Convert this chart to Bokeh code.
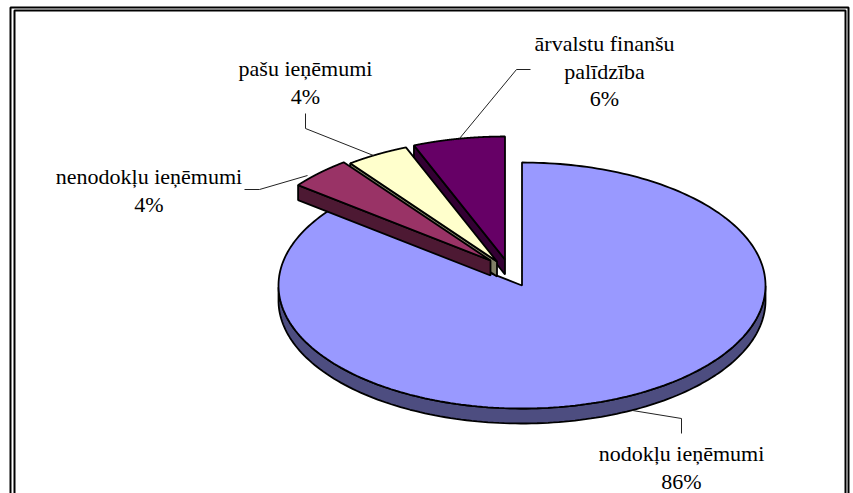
import numpy as np
from bokeh.plotting import figure
from bokeh.models import ColumnDataSource, Range1d
from bokeh.core.properties import value
from bokeh.embed import file_html
from bokeh.resources import INLINE

# Data, in drawing order round the pie, clockwise from twelve o'clock
categories = ["nodokļu ieņēmumi", "nenodokļu ieņēmumi", "pašu ieņēmumi", "ārvalstu finanšu\npalīdzība"]
shares = [85.5, 4.2, 4.2, 6.1]
percent_labels = ["86%", "4%", "4%", "6%"]

top_colors = ["#9999FF", "#993366", "#FFFFCC", "#660066"]
side_colors = ["#4D4D80", "#4D1933", "#808066", "#330033"]

W, H = 853, 493
CX, CY, RX, RY, DEPTH = 521.5, 285, 243.5, 123, 15
offsets = [(0, 0), (-31.5, -25), (-25, -24), (-17, -26)]

label_pos = [(681, 453), (148.5, 176), (305, 68), (604, 43)]
leaders = [
    [(681, 433), (681, 418), (632, 410)],
    [(244, 189), (259, 189), (307, 175)],
    [(305, 113), (305, 128), (373, 155)],
    [(530, 69), (516, 69), (459, 138)],
]

p = figure(width=W, height=H, output_backend="svg", toolbar_location=None,
           x_range=Range1d(0, W), y_range=Range1d(H, 0), min_border=0)
p.axis.visible = False
p.grid.visible = False
p.outline_line_color = None
p.background_fill_color = "white"
p.border_fill_color = "white"

fractions = np.cumsum([0] + shares) / sum(shares)


def wedge(i):
    a0, a1 = fractions[i] * 2 * np.pi, fractions[i + 1] * 2 * np.pi
    t = np.linspace(a0, a1, 240)
    dx, dy = offsets[i]
    return t, CX + dx, CY + dy


# Blue slice: rim first, then the top surface
t, cx, cy = wedge(0)
vis = t[(t >= np.pi / 2) & (t <= 1.5 * np.pi)]
rim_x = RX * np.sin(vis) + cx
rim_y = -RY * np.cos(vis) + cy
p.patch(list(rim_x) + list(rim_x[::-1]),
        list(rim_y) + list(rim_y[::-1] + DEPTH),
        fill_color=side_colors[0], line_color="black", line_width=1.8)
p.patch([cx] + list(RX * np.sin(t) + cx), [cy] + list(-RY * np.cos(t) + cy),
        fill_color=top_colors[0], line_color="black", line_width=1.8)

# Exploded slices: back to front
for i in (3, 2, 1):
    t, cx, cy = wedge(i)
    ex, ey = RX * np.sin(t[0]) + cx, -RY * np.cos(t[0]) + cy
    p.patch([cx, ex, ex, cx], [cy, ey, ey + DEPTH, cy + DEPTH],
            fill_color=side_colors[i], line_color="black", line_width=1.8)
    p.patch([cx] + list(RX * np.sin(t) + cx), [cy] + list(-RY * np.cos(t) + cy),
            fill_color=top_colors[i], line_color="black", line_width=1.8)

# Leader lines
for pts in leaders:
    p.line([q[0] for q in pts], [q[1] for q in pts], line_color="#222222", line_width=1)

# Labels
tx, ty, tt = [], [], []
for cat, pct, (x, y) in zip(categories, percent_labels, label_pos):
    lines = cat.split("\n") + [pct]
    for k, s in enumerate(lines):
        tx.append(x)
        ty.append(y + k * 27.5)
        tt.append(s)
p.text(x="x", y="y", text="t", source=ColumnDataSource(dict(x=tx, y=ty, t=tt)),
       text_font=value("Liberation Serif"), text_font_size="22px", text_color="black",
       text_align="center", text_baseline="middle")

# Double frame, running off the bottom of the picture
p.line([10, 10, 848, 848], [H + 5, 7, 7, H + 5], line_color="black", line_width=2)
p.line([14, 14, 845, 845], [H + 5, 10, 10, H + 5], line_color="black", line_width=2)

open("out.html", "w").write(file_html(p, INLINE))
